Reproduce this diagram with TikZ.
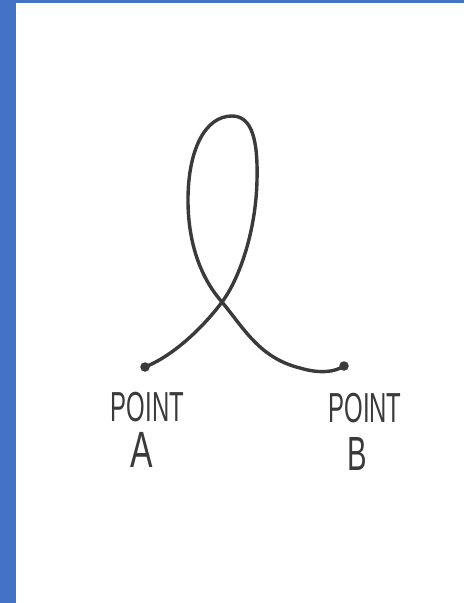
\documentclass[tikz,border=0pt]{standalone}
\usepackage{fontspec}
\setmainfont{Liberation Sans}
\definecolor{frameblue}{HTML}{4472C4}
\definecolor{ink}{HTML}{3A3A3A}
\begin{document}
\begin{tikzpicture}[x=1pt,y=-1pt,
  stroke/.style={draw=ink,line width=3.4pt,line cap=round,line join=round},
  enddot/.style={circle,fill=ink,inner sep=0pt,minimum size=9.5pt},
  label/.style={text=ink,inner sep=0pt,transform shape}]
\useasboundingbox (0,0) rectangle (464,603);
\fill[white] (0,0) rectangle (464,603);
\fill[frameblue] (0,0) rectangle (16,603);
\fill[frameblue] (0,0) rectangle (464,3);
\node[enddot] (a) at (145,367) {};
\node[enddot] (b) at (344,366) {};
\coordinate (x) at (222,302);
\coordinate (r) at (257,180);
\coordinate (t) at (232,116);
\coordinate (l) at (188,200);
\coordinate (m) at (300,368);
\draw[stroke] (a.center) .. controls (175,355) and (205,325) .. (x)
  .. controls (240,278) and (256,230) .. (r)
  .. controls (258,140) and (252,116) .. (t)
  .. controls (205,116) and (188,150) .. (l)
  .. controls (188,250) and (205,283) .. (x)
  .. controls (245,330) and (260,358) .. (m)
  .. controls (320,374) and (335,372) .. (b.center);
\node[label,xscale=0.57,font=\fontsize{42}{42}\selectfont] (pa) at (147.5,407) {POINT};
\node[label,xscale=0.66,font=\fontsize{51}{51}\selectfont] (la) at (141.5,450) {A};
\node[label,xscale=0.57,font=\fontsize{42}{42}\selectfont] (pb) at (365,408) {POINT};
\node[label,xscale=0.61,font=\fontsize{48}{48}\selectfont] (lb) at (357,453.5) {B};
\end{tikzpicture}
\end{document}
